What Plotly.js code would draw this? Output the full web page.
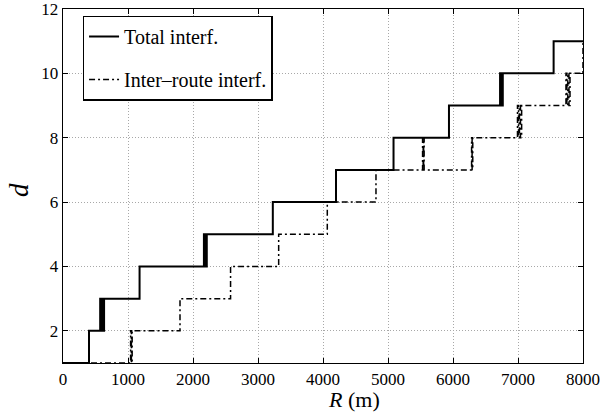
<!DOCTYPE html>
<html>
<head>
<meta charset="utf-8">
<script src="https://cdn.plot.ly/plotly-3.0.1.min.js"></script>
<style>
  html, body { margin: 0; padding: 0; background: #fff; }
  #chart { width: 601px; height: 412px; }
</style>
</head>
<body>
<div id="chart"></div>
<script>
// Number of hops d needed versus communication range R (m).
// Each series is a staircase: the value holds until the next R.
const totalR = [0, 400, 572, 590, 602, 616, 632, 1178, 2168, 2180, 2192, 2202, 2212, 3228, 4200, 5085, 5938, 6724, 6736, 6746, 6756, 6766, 7548, 8000];
const totalD = [1, 2, 3, 2, 3, 2, 3, 4, 5, 4, 5, 4, 5, 6, 7, 8, 9, 10, 9, 10, 9, 10, 11, 11];

const interR = [0, 1040, 1052, 1064, 1800, 2578, 3318, 4066, 4815, 5532, 5541, 5548, 5556, 6286, 6294, 6304, 6992, 7008, 7022, 7038, 7056, 7738, 7752, 7766, 7784, 7800, 8000];
const interD = [1, 2, 1, 2, 3, 4, 5, 6, 7, 8, 7, 8, 7, 8, 7, 8, 9, 8, 9, 8, 9, 10, 9, 10, 9, 10, 11];

const seriesNames = ['Total interf.', 'Inter\u2013route interf.'];
const xTicks = [0, 1000, 2000, 3000, 4000, 5000, 6000, 7000, 8000];
const yTicks = [2, 4, 6, 8, 10, 12];
const xTitle = '<i>R</i> (m)';
const yTitle = '<i>d</i>';

const serif = 'Liberation Serif';

const traces = [
  {
    x: totalR, y: totalD, name: seriesNames[0], legendgroup: 'a',
    type: 'scatter', mode: 'lines',
    line: { shape: 'hv', color: '#000', width: 2 }
  },
  {
    x: interR, y: interD, name: seriesNames[1], legendgroup: 'b',
    type: 'scatter', mode: 'lines',
    line: { shape: 'hv', color: '#000', width: 1.5, dash: '6px,3px,2px,3px' }
  }
];

const axisCommon = {
  showline: true, linecolor: '#000', linewidth: 1.3,
  mirror: 'ticks', ticks: 'inside', ticklen: 5, tickcolor: '#000', tickwidth: 1,
  showgrid: true, gridcolor: '#a8a8a8', gridwidth: 1, griddash: '1px,2px',
  zeroline: false, ticklabeloverflow: 'allow',
  tickfont: { family: serif, size: 17, color: '#000' }
};

const layout = {
  width: 601, height: 412,
  font: { family: serif, color: '#000' },
  margin: { l: 63, r: 18, t: 9, b: 49 },
  paper_bgcolor: '#fff', plot_bgcolor: '#fff',
  showlegend: true,
  legend: {
    x: 0.038, y: 0.981, xanchor: 'left', yanchor: 'top',
    bgcolor: '#fff', bordercolor: '#000', borderwidth: 1.3,
    font: { family: serif, size: 20, color: '#000' },
    traceorder: 'grouped', tracegroupgap: 14, itemwidth: 30
  },
  xaxis: Object.assign({}, axisCommon, {
    range: [0, 8000], tickvals: xTicks, ticktext: xTicks.map(String)
  }),
  yaxis: Object.assign({}, axisCommon, {
    range: [1, 12], tickvals: yTicks, ticktext: yTicks.map(String)
  }),
  // Axis titles placed as annotations next to the tick labels
  annotations: [
    {
      text: xTitle, xref: 'paper', yref: 'paper', x: 0.56, y: 0,
      xanchor: 'center', yanchor: 'middle', yshift: -36, showarrow: false,
      borderpad: 0, font: { family: serif, size: 22, color: '#000' }
    },
    {
      text: yTitle, xref: 'paper', yref: 'paper', x: 0, y: 0.5,
      xanchor: 'center', yanchor: 'middle', xshift: -44, yshift: -4, textangle: -90, showarrow: false,
      font: { family: serif, size: 27, color: '#000' }
    }
  ]
};

Plotly.newPlot('chart', traces, layout, { staticPlot: true, displayModeBar: false });
</script>
</body>
</html>
